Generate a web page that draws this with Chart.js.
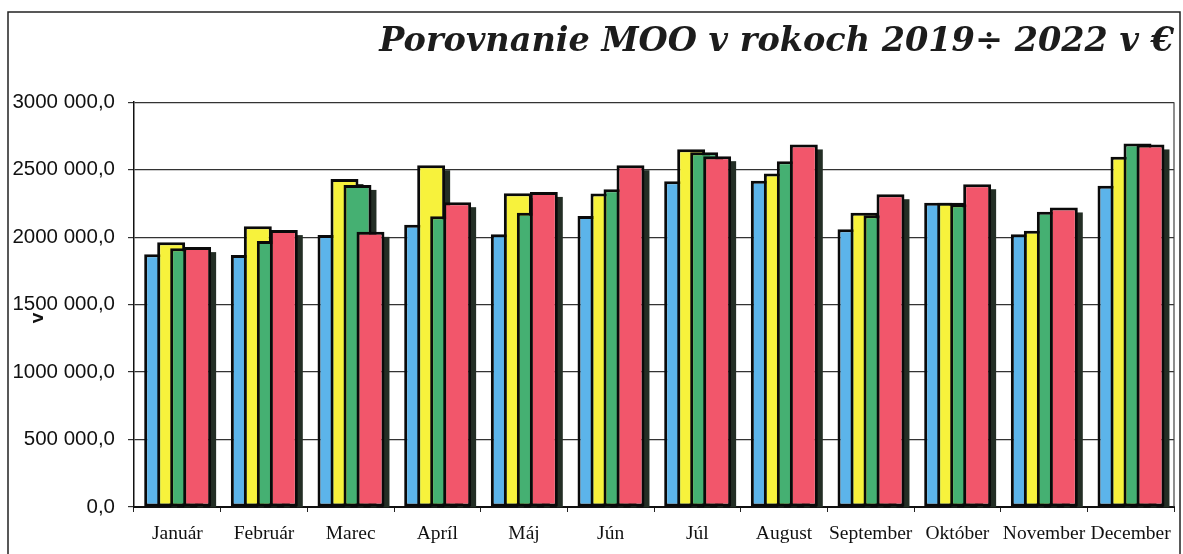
<!DOCTYPE html>
<html>
<head>
<meta charset="utf-8">
<script src="https://cdn.jsdelivr.net/npm/chart.js@4.4.1/dist/chart.umd.min.js"></script>
<style>
    html, body { margin: 0; padding: 0; background: #fff; }
    #wrap { width: 1183px; height: 554px; position: relative; }
</style>
</head>
<body>
<div id="wrap"><canvas id="mooChart"></canvas></div>
<script>
// Data (values in €)
const months = ['Január', 'Február', 'Marec', 'Apríl', 'Máj', 'Jún', 'Júl', 'August', 'September', 'Október', 'November', 'December'];
const years = ['2019', '2020', '2021', '2022'];
const values2019 = [1874000, 1867000, 2015000, 2092000, 2022000, 2157000, 2414000, 2417000, 2059000, 2254000, 2022000, 2380000];
const values2020 = [1963000, 2081000, 2430000, 2533000, 2326000, 2324000, 2652000, 2472000, 2180000, 2254000, 2047000, 2595000];
const values2021 = [1918000, 1972000, 2387000, 2155000, 2180000, 2355000, 2630000, 2563000, 2163000, 2244000, 2188000, 2694000];
const values2022 = [1926000, 2052000, 2039000, 2259000, 2335000, 2533000, 2600000, 2687000, 2318000, 2392000, 2220000, 2687000];
const yTicks = [0, 500000, 1000000, 1500000, 2000000, 2500000, 3000000];

const barColors = ['#5cb4ea', '#f7f23c', '#45b072', '#f2566b'];
const shadowColor = '#232e25';

function formatValue(v) {
    if (v === 0) return '0,0';
    const thousands = Math.floor(v / 1000);
    const rest = String(v % 1000).padStart(3, '0');
    return thousands + ' ' + rest + ',0';
}

// Excel-like overlapping bars with a dark side shadow
const overlapBars = {
    id: 'overlapBars',
    afterDatasetsUpdate(chart) {
        chart.data.datasets.forEach((ds, i) => {
            chart.getDatasetMeta(i).data.forEach(bar => {
                const left = bar.x - bar.width / 2 - bar.width * 0.55;
                const w = bar.width * 2.15;
                bar.x = left + w / 2;
                bar.width = w;
            });
        });
    },
    beforeDatasetsDraw(chart) {
        const ctx = chart.ctx;
        chart.data.datasets.forEach((ds, i) => {
            chart.getDatasetMeta(i).data.forEach(bar => {
                const right = bar.x + bar.width / 2;
                ctx.fillStyle = shadowColor;
                ctx.fillRect(right - 1, bar.y + 5, 6, bar.base - bar.y - 4);
                bar.draw(ctx);
            });
        });
        return false;
    }
};

// Outer frame, plot border and the rotated axis letter
const frame = {
    id: 'frame',
    afterDraw(chart) {
        const ctx = chart.ctx;
        const area = chart.chartArea;
        ctx.save();
        ctx.strokeStyle = '#222';
        ctx.lineWidth = 1.5;
        ctx.strokeRect(8, 12, 1172, 600);
        ctx.strokeStyle = '#444';
        ctx.lineWidth = 1.2;
        ctx.beginPath();
        ctx.moveTo(area.right, area.top);
        ctx.lineTo(area.right, area.bottom);
        ctx.stroke();
        ctx.translate(38, 318);
        ctx.rotate(-Math.PI / 2);
        ctx.fillStyle = '#111';
        ctx.font = 'bold 19px "Liberation Sans", Arial, sans-serif';
        ctx.textAlign = 'center';
        ctx.textBaseline = 'middle';
        ctx.fillText('v', 0, 0);
        ctx.restore();
    }
};

new Chart(document.getElementById('mooChart'), {
    type: 'bar',
    data: {
        labels: months,
        datasets: [values2019, values2020, values2021, values2022].map((vals, i) => ({
            label: years[i],
            data: vals,
            backgroundColor: barColors[i],
            borderColor: '#0a0a0a',
            borderWidth: 3,
            borderSkipped: false,
            categoryPercentage: 0.6,
            barPercentage: 1
        }))
    },
    options: {
        responsive: true,
        maintainAspectRatio: false,
        animation: false,
        layout: { padding: { left: 8, right: 9, top: 0, bottom: 0 } },
        plugins: {
            legend: { display: false },
            tooltip: { enabled: false },
            title: {
                display: true,
                text: 'Porovnanie MOO v rokoch 2019÷ 2022 v €',
                align: 'end',
                color: '#1c1c1c',
                font: { family: '"DejaVu Serif", serif', size: 33.5, weight: 'bold', style: 'italic' },
                padding: { top: 22, bottom: 40 }
            }
        },
        scales: {
            x: {
                grid: { offset: true, drawOnChartArea: false, tickLength: 5, color: '#222' },
                border: { color: '#111', width: 2 },
                ticks: {
                    color: '#111',
                    padding: 10,
                    maxRotation: 0,
                    autoSkip: false,
                    font: { family: '"Liberation Serif", "Times New Roman", serif', size: 19.5 }
                },
                afterFit(scale) { scale.height = 47; }
            },
            y: {
                min: 0,
                max: 3000000,
                afterBuildTicks(scale) { scale.ticks = yTicks.map(v => ({ value: v })); },
                grid: { color: '#333', lineWidth: 1.2, tickLength: 6 },
                border: { color: '#111', width: 1.5 },
                ticks: {
                    color: '#111',
                    padding: 13,
                    font: { family: '"Liberation Sans", Arial, sans-serif', size: 20.5 },
                    callback: value => formatValue(value)
                },
                afterFit(scale) { scale.width = 126; }
            }
        }
    },
    plugins: [overlapBars, frame]
});
</script>
</body>
</html>
